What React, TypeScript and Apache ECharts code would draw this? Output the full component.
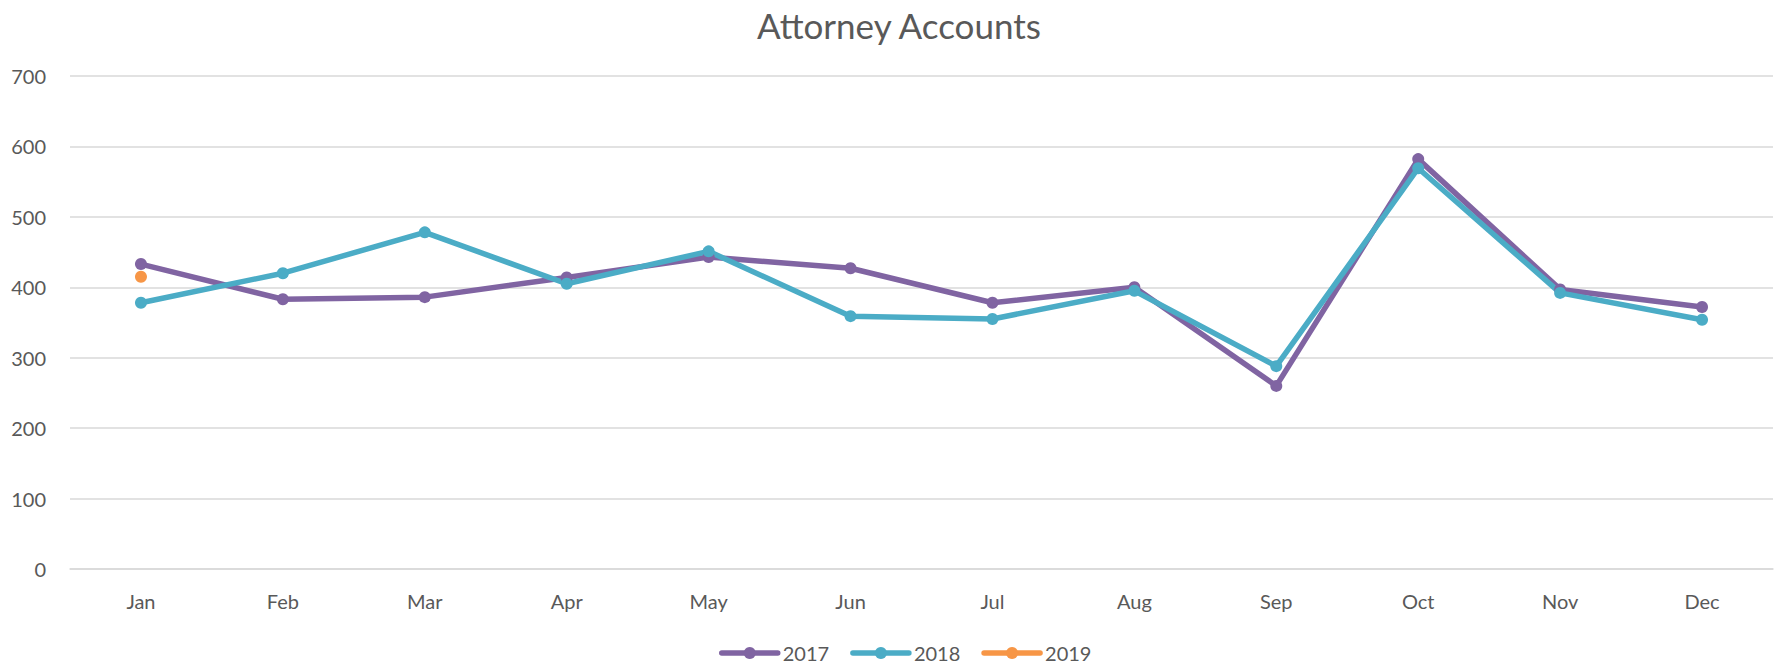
import React, { useEffect, useRef } from "react";
import * as echarts from "echarts";

const months = ["Jan", "Feb", "Mar", "Apr", "May", "Jun", "Jul", "Aug", "Sep", "Oct", "Nov", "Dec"];
const s2017 = [433, 383, 386, 414, 443, 427, 378, 400, 260, 582, 397, 372];
const s2018 = [378, 420, 478, 405, 451, 359, 355, 395, 288, 569, 392, 354];
const s2019 = [415, null, null, null, null, null, null, null, null, null, null, null];
const yTicks = [0, 100, 200, 300, 400, 500, 600, 700];

const FONT = "Lato, 'Open Sans', sans-serif";

export default function App() {
  const ref = useRef<HTMLDivElement>(null);
  useEffect(() => {
    if (!ref.current) return;
    const chart = echarts.init(ref.current, null, { renderer: "svg" });
    const mk = (name: string, data: (number | null)[], color: string) => ({
      name,
      type: "line",
      data,
      color,
      symbol: "circle",
      symbolSize: 12,
      showSymbol: true,
      lineStyle: { width: 5.5, color, cap: "round", join: "round" },
      itemStyle: { color },
      connectNulls: false,
    });
    chart.setOption({
      animation: false,
      textStyle: { fontFamily: FONT },
      title: {
        text: "Attorney Accounts",
        left: 894,
        textAlign: "center",
        top: 2,
        textStyle: { fontSize: 35, fontWeight: "normal", color: "#595959", fontFamily: FONT },
      },
      legend: {
        top: 638,
        left: 714,
        itemWidth: 56,
        itemHeight: 15,
        itemGap: 21,
        lineStyle: { width: 5.5, cap: "round" },
        textStyle: { fontSize: 20, color: "#595959", fontFamily: FONT },
        data: ["2017", "2018", "2019"],
      },
      grid: { left: 70, right: 4, top: 76, bottom: 95, containLabel: false },
      xAxis: {
        type: "category",
        data: months,
        boundaryGap: true,
        axisLine: { show: true, lineStyle: { color: "#D9D9D9", width: 1.5 } },
        axisTick: { show: false },
        axisLabel: { color: "#595959", fontSize: 20, margin: 22, fontFamily: FONT },
      },
      yAxis: {
        type: "value",
        min: yTicks[0],
        max: yTicks[yTicks.length - 1],
        interval: 100,
        axisLine: { show: false },
        axisTick: { show: false },
        axisLabel: { color: "#595959", fontSize: 20, margin: 24, fontFamily: FONT },
        splitLine: { lineStyle: { color: "#D9D9D9", width: 1.5 } },
      },
      series: [
        mk("2017", s2017, "#8064A2"),
        mk("2018", s2018, "#4BACC6"),
        mk("2019", s2019, "#F79646"),
      ],
    });
    return () => chart.dispose();
  }, []);
  return (
    <div
      ref={ref}
      style={{ position: "fixed", left: 0, top: 0, width: 1777, height: 664, background: "#fff" }}
    />
  );
}
